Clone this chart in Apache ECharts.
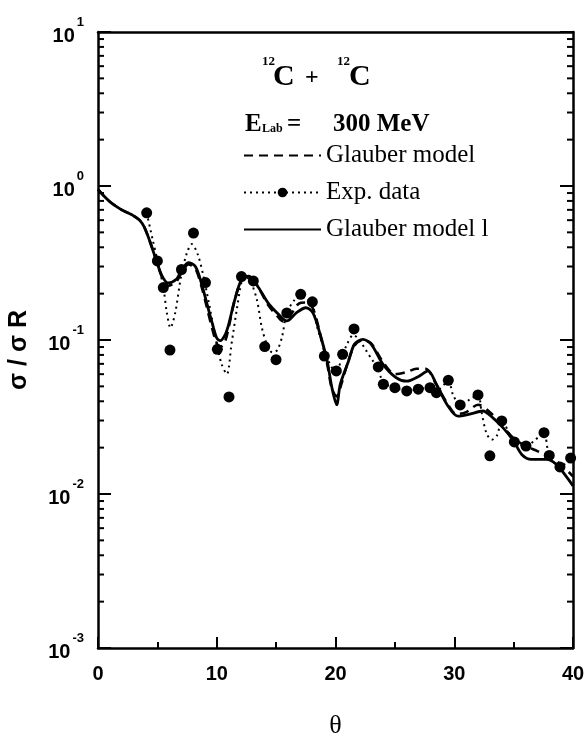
<!DOCTYPE html>
<html><head><meta charset="utf-8">
<script src="https://cdn.jsdelivr.net/npm/echarts@6/dist/echarts.min.js"></script>
<style>html,body{margin:0;padding:0;background:#fff}#c{width:586px;height:738px}</style>
</head><body><div id="c"></div>
<script>
// Glauber model l (solid)
const solidTheta = [0,0.5,1,1.5,2,2.5,3,3.5,3.9,4.4,4.9,5.4,5.9,6.6,7.0,7.6,8.2,8.7,9.15,9.6,10.0,10.3,10.7,11.0,11.5,12.1,12.7,13.5,14.3,15.2,15.9,16.7,17.5,18.1,18.7,19.3,19.7,20.1,20.4,21.1,21.6,22.3,23.0,24.0,25.1,26.0,27.0,27.8,28.5,29.4,30.3,31.3,32.4,33.3,34.1,35.0,35.7,36.5,37.8,38.6,39.3,40];
const solidVal = [0.95,0.86,0.79,0.74,0.70,0.67,0.64,0.60,0.54,0.43,0.33,0.26,0.235,0.248,0.28,0.318,0.30,0.235,0.175,0.13,0.103,0.099,0.108,0.126,0.18,0.248,0.26,0.22,0.175,0.147,0.133,0.15,0.162,0.15,0.109,0.073,0.049,0.038,0.0515,0.073,0.094,0.101,0.094,0.0695,0.057,0.054,0.058,0.063,0.0515,0.038,0.032,0.033,0.0346,0.031,0.027,0.0221,0.018,0.0168,0.0168,0.0156,0.0134,0.0113];
// Glauber model (dashed)
const dashTheta = [0,0.5,1,1.5,2,2.5,3,3.5,3.9,4.4,4.9,5.4,5.9,6.6,7.0,7.6,8.2,8.7,9.15,9.6,10.0,10.3,10.7,11.0,11.5,12.1,12.7,13.5,14.3,15.2,15.6,16.2,16.9,17.5,18.1,18.7,19.3,19.7,20.1,20.5,21.0,21.6,22.3,23.0,24.0,25.0,26.0,26.8,27.6,28.4,29.3,30.2,31.0,32.0,33.0,34.0,35.0,36.0,37.0,38.0,39.0,40];
const dashVal = [0.95,0.86,0.79,0.74,0.70,0.67,0.64,0.60,0.54,0.43,0.33,0.255,0.225,0.24,0.27,0.31,0.29,0.225,0.165,0.12,0.095,0.09,0.098,0.12,0.18,0.245,0.26,0.22,0.17,0.14,0.132,0.145,0.172,0.175,0.16,0.11,0.07,0.048,0.043,0.052,0.07,0.092,0.1,0.095,0.072,0.06,0.062,0.065,0.065,0.053,0.04,0.033,0.034,0.038,0.034,0.028,0.023,0.0205,0.019,0.0175,0.0155,0.013];
// Exp. data dotted curve
const dotTheta = [4.1,4.6,5.0,5.5,5.8,6.1,6.5,7.0,7.5,7.9,8.4,8.9,9.5,10.0,10.4,10.85,11.25,11.7,12.1,12.4,12.9,13.4,13.8,14.3,14.7,15.1,15.5,15.9,16.5,17.05,17.6,18.05,18.4,19.1,19.7,20.1,20.6,21.0,21.5,22.0,22.6,23.1,23.6,24.0,25.0,26.0,27.0,28.0,28.5,29.5,29.9,30.5,31.3,32.0,32.3,32.7,33.15,33.6,34.0,35.06,36.04,36.7,37.1,37.56,38.0,38.9,39.8];
const dotVal = [0.67,0.45,0.33,0.22,0.15,0.12,0.15,0.26,0.37,0.42,0.36,0.255,0.15,0.095,0.07,0.06,0.095,0.16,0.24,0.26,0.235,0.18,0.12,0.09,0.083,0.086,0.105,0.15,0.18,0.195,0.186,0.17,0.126,0.085,0.066,0.064,0.08,0.095,0.108,0.1,0.085,0.074,0.066,0.053,0.049,0.047,0.048,0.049,0.047,0.054,0.044,0.038,0.041,0.044,0.034,0.025,0.0225,0.024,0.0298,0.0218,0.0205,0.022,0.0235,0.025,0.0178,0.015,0.017];
// Exp. data points
const expTheta = [4.1,5.0,5.5,6.06,7.03,8.04,9.05,10.05,11.03,12.08,13.08,14.04,14.99,15.9,17.07,18.05,19.06,20.07,20.6,21.56,23.6,24.03,25.0,26.0,26.97,27.96,28.5,29.5,30.5,32.0,33.0,34.0,35.06,36.04,37.56,38.0,38.9,39.8];
const expVal = [0.67,0.326,0.219,0.086,0.287,0.495,0.236,0.087,0.0427,0.258,0.242,0.0907,0.0745,0.150,0.198,0.177,0.0787,0.063,0.0807,0.118,0.0668,0.0516,0.049,0.0467,0.0479,0.049,0.0455,0.0547,0.0379,0.044,0.0177,0.0298,0.0218,0.0205,0.025,0.0178,0.015,0.0171];
// axis ticks
const xTicks = [0,10,20,30,40];
const yDecades = [0.001,0.01,0.1,1,10];
const minorMantissa = [2,3,4,5,6,7,8,9];

const zip = (a,b)=>a.map((t,i)=>[t,b[i]]);
const minorValues = [];
yDecades.slice(0,-1).forEach(d=>minorMantissa.forEach(m=>minorValues.push([0, m*d])));

const FS = '"Liberation Sans", Arial, sans-serif';
const FT = '"Liberation Serif", "Times New Roman", serif';
const chart = echarts.init(document.getElementById('c'));
const tickStyle = {color:'#000', width:2};
chart.setOption({
  animation:false,
  backgroundColor:'#fff',
  grid:{left:98,right:13,top:32,bottom:90,outerBoundsMode:'none',containLabel:false},
  legend:{
    orient:'vertical', left:238, top:138, itemWidth:77, itemHeight:12, itemGap:12,
    selectedMode:false,
    textStyle:{fontFamily:FT, fontSize:25, color:'#000', lineHeight:24},
    data:[
      {name:'Glauber model', itemStyle:{color:'rgba(0,0,0,0)', borderColor:'rgba(0,0,0,0)', borderWidth:0}},
      {name:'Exp. data'},
      {name:'Glauber model l', itemStyle:{color:'rgba(0,0,0,0)', borderColor:'rgba(0,0,0,0)', borderWidth:0}}
    ]
  },
  xAxis:[{
    type:'value', min:xTicks[0], max:xTicks[xTicks.length-1], interval:10,
    axisLine:{onZero:false, lineStyle:{color:'#000', width:2.5}},
    axisTick:{inside:true, length:11, lineStyle:tickStyle},
    minorTick:{show:true, splitNumber:2, length:6, lineStyle:tickStyle},
    splitLine:{show:false},
    axisLabel:{color:'#000', fontFamily:FS, fontWeight:'bold', fontSize:20, margin:16},
    name:'θ', nameLocation:'middle', nameGap:65,
    nameTextStyle:{fontFamily:FT, fontSize:26, color:'#000'}
  },{
    type:'value', position:'top', min:0, max:40, interval:10,
    axisLine:{onZero:false, lineStyle:{color:'#000', width:2.5}},
    axisTick:{show:false}, axisLabel:{show:false}, splitLine:{show:false}
  }],
  yAxis:[{
    type:'log', logBase:10, min:yDecades[0], max:yDecades[yDecades.length-1],
    axisLine:{show:true, onZero:false, lineStyle:{color:'#000', width:2.5}},
    axisTick:{show:true, inside:true, length:13, lineStyle:tickStyle},
    splitLine:{show:false},
    axisLabel:{
      margin:14, padding:[8,0,0,0],
      formatter:v=>'{b|10}{e|'+Math.round(Math.log10(v))+'}',
      rich:{
        b:{fontFamily:FS, fontWeight:'bold', fontSize:20, color:'#000', lineHeight:20, verticalAlign:'bottom'},
        e:{fontFamily:FS, fontWeight:'bold', fontSize:13, color:'#000', lineHeight:13, padding:[0,0,17,2], verticalAlign:'bottom'}
      }
    },
    name:'σ / σ R', nameLocation:'middle', nameGap:66,
    nameTextStyle:{fontFamily:FS, fontWeight:'bold', fontSize:25, color:'#000', padding:[0,20,0,0]}
  },{
    type:'log', logBase:10, position:'right', min:yDecades[0], max:yDecades[yDecades.length-1],
    axisLine:{show:true, onZero:false, lineStyle:{color:'#000', width:2.5}},
    axisTick:{show:true, inside:true, length:13, lineStyle:tickStyle},
    axisLabel:{show:false}, splitLine:{show:false}
  }],
  graphic:[
    {type:'text', left:262, top:55, style:{text:'12', font:'bold 13px '+FT, fill:'#000'}},
    {type:'text', left:273, top:62, style:{text:'C', font:'bold 30px '+FT, fill:'#000'}},
    {type:'text', left:305, top:66, style:{text:'+', font:'bold 24px '+FT, fill:'#000'}},
    {type:'text', left:337, top:55, style:{text:'12', font:'bold 13px '+FT, fill:'#000'}},
    {type:'text', left:349, top:62, style:{text:'C', font:'bold 30px '+FT, fill:'#000'}},
    {type:'text', left:245, top:112, style:{text:'E', font:'bold 25px '+FT, fill:'#000'}},
    {type:'text', left:262, top:123, style:{text:'Lab', font:'bold 12px '+FT, fill:'#000'}},
    {type:'text', left:287, top:112, style:{text:'=', font:'bold 25px '+FT, fill:'#000'}},
    {type:'text', left:333, top:112, style:{text:'300 MeV', font:'bold 25px '+FT, fill:'#000'}}
  ],
  series:[
    {name:'Glauber model', type:'line', data:zip(dashTheta,dashVal), smooth:0.3, symbol:'none',
     lineStyle:{color:'#000', width:2.6, type:[9,6]}, itemStyle:{color:'#000'}, z:3},
    {name:'Exp. data', type:'line', data:zip(dotTheta,dotVal), smooth:0.3, symbol:'circle', symbolSize:10, showSymbol:false,
     lineStyle:{color:'#000', width:2, type:[2,4]}, itemStyle:{color:'#000'}, z:2},
    {name:'Glauber model l', type:'line', data:zip(solidTheta,solidVal), smooth:0.3, symbol:'none',
     lineStyle:{color:'#000', width:2.8}, itemStyle:{color:'#000'}, z:4},
    {name:'Exp. points', type:'scatter', data:zip(expTheta,expVal), symbol:'circle', symbolSize:11,
     itemStyle:{color:'#000', opacity:1}, z:5},
    {name:'minor ticks', type:'custom', data:minorValues, silent:true, z:6,
     renderItem:(params, api)=>{
       const v = api.value(1);
       const p = api.coord([0, v]);
       const q = api.coord([40, v]);
       return {type:'group', children:[
         {type:'line', shape:{x1:p[0], y1:p[1], x2:p[0]+6, y2:p[1]}, style:{stroke:'#000', lineWidth:2}},
         {type:'line', shape:{x1:q[0], y1:q[1], x2:q[0]-6, y2:q[1]}, style:{stroke:'#000', lineWidth:2}}
       ]};
     }}
  ]
});
</script></body></html>
